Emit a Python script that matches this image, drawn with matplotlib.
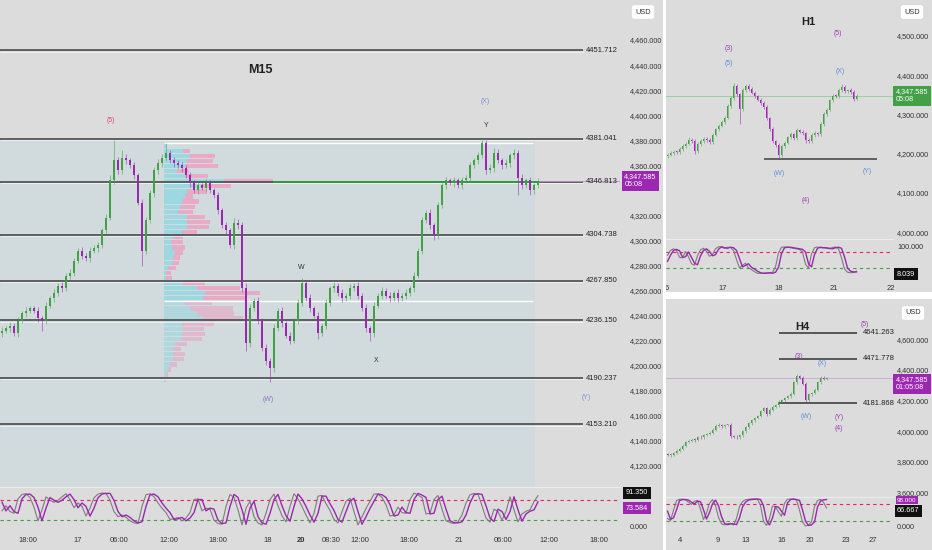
import matplotlib.pyplot as plt
import matplotlib.transforms as mtransforms
from matplotlib.patches import Rectangle
from matplotlib.ticker import FuncFormatter
import numpy as np

plt.rcParams["font.family"] = ["Liberation Sans Narrow", "Liberation Sans", "DejaVu Sans"]

# ---------------- M15 (main panel) ----------------
m15_first_open = 4226
m15_close = [4228, 4230, 4232, 4226, 4236, 4242, 4244, 4246, 4244, 4238,
             4236, 4248, 4254, 4258, 4264, 4262, 4272, 4274, 4284, 4292,
             4288, 4286, 4292, 4294, 4296, 4308, 4318, 4348, 4364, 4356,
             4366, 4364, 4360, 4352, 4330, 4292, 4316, 4338, 4356, 4362,
             4366, 4370, 4364, 4362, 4360, 4358, 4352, 4346, 4340, 4344,
             4342, 4346, 4340, 4336, 4324, 4312, 4308, 4296, 4314, 4312,
             4262, 4218, 4246, 4252, 4236, 4214, 4204, 4198, 4230, 4244,
             4234, 4224, 4220, 4236, 4250, 4266, 4254, 4246, 4240, 4226,
             4232, 4250, 4262, 4264, 4258, 4254, 4256, 4262, 4264, 4256,
             4246, 4230, 4226, 4248, 4256, 4260, 4256, 4254, 4258, 4254,
             4256, 4258, 4262, 4272, 4292, 4316, 4322, 4312, 4304, 4328,
             4344, 4348, 4346, 4348, 4344, 4348, 4350, 4360, 4364, 4368,
             4378, 4356, 4358, 4370, 4364, 4360, 4362, 4368, 4370, 4350,
             4344, 4348, 4340, 4344, 4347.585]
m15_wick_up = [3, 2, 3, 2, 3, 2, 3, 2, 2, 3, 2, 3, 2, 3, 2, 3, 2, 3, 2, 2,
               3, 2, 3, 2, 3, 2, 3, 4, 16, 3, 6, 3, 2, 3, 2, 3, 3, 2, 3, 3,
               3, 8, 2, 3, 2, 3, 2, 3, 2, 3, 2, 3, 2, 2, 3, 2, 3, 2, 4, 3,
               3, 4, 3, 2, 3, 2, 3, 2, 3, 2, 3, 2, 3, 2, 3, 4, 2, 3, 2, 3,
               2, 3, 2, 3, 2, 3, 2, 3, 2, 3, 2, 3, 2, 3, 2, 3, 2, 3, 2, 3,
               2, 3, 2, 3, 2, 3, 2, 3, 2, 3, 2, 3, 2, 3, 2, 3, 2, 3, 2, 3,
               4, 2, 3, 4, 3, 2, 3, 2, 3, 2, 3, 2, 3, 2, 2]
m15_wick_dn = [3, 2, 3, 2, 3, 2, 3, 2, 2, 3, 8, 3, 2, 3, 2, 3, 2, 3, 2, 2,
               3, 2, 3, 2, 3, 2, 3, 2, 3, 3, 3, 3, 2, 3, 2, 12, 3, 2, 3, 3,
               3, 2, 2, 3, 2, 3, 2, 3, 2, 3, 2, 3, 2, 2, 3, 2, 3, 2, 3, 3,
               3, 6, 3, 2, 3, 2, 3, 11, 3, 2, 3, 2, 3, 2, 3, 2, 2, 3, 2, 5,
               2, 3, 2, 3, 2, 3, 2, 3, 2, 3, 2, 3, 6, 3, 2, 3, 2, 3, 2, 3,
               2, 3, 2, 3, 2, 3, 2, 3, 4, 3, 2, 3, 2, 3, 2, 3, 2, 3, 2, 3,
               2, 3, 2, 3, 2, 3, 2, 3, 3, 14, 3, 2, 4, 3, 2]
m15_levels = [4451.712, 4381.041, 4346.813, 4304.738, 4267.850, 4236.150, 4190.237, 4153.210]
m15_stoch_k = [47, 62, 45, 40, 82, 95, 97, 86, 58, 18,
               50, 88, 78, 72, 78, 88, 97, 80, 56, 70,
               60, 32, 55, 85, 96, 99, 98, 78, 45, 30,
               35, 28, 18, 12, 10, 60, 94, 97, 88, 70,
               55, 42, 22, 24, 28, 18, 26, 42, 80, 82,
               47, 55, 52, 20, 10, 8, 60, 95, 86, 50,
               6, 55, 75, 30, 12, 6, 40, 80, 96, 62,
               33, 15, 60, 97, 82, 60, 35, 12, 40, 90,
               92, 68, 48, 22, 12, 45, 75, 84, 45, 6,
               30, 54, 75, 96, 96, 86, 65, 32, 35, 58,
               42, 40, 80, 99, 93, 86, 38, 40, 80, 92,
               52, 18, 13, 10, 15, 35, 70, 94, 98, 95,
               62, 26, 14, 52, 45, 20, 45, 88, 50, 15,
               38, 46, 50, 74, 91.35]
m15_stoch_d = [72, 47, 62, 45, 40, 82, 95, 96, 86, 58,
               18, 55, 86, 78, 72, 78, 88, 96, 80, 56,
               70, 60, 32, 55, 85, 96, 98, 98, 78, 45,
               30, 35, 28, 18, 12, 15, 60, 94, 96, 88,
               70, 55, 42, 22, 24, 28, 18, 26, 42, 80,
               80, 47, 55, 52, 20, 10, 12, 60, 95, 86,
               50, 8, 55, 75, 30, 12, 8, 40, 80, 95,
               62, 33, 17, 60, 96, 82, 60, 35, 14, 40,
               90, 90, 68, 48, 22, 14, 45, 75, 84, 45,
               8, 30, 54, 75, 96, 94, 86, 65, 32, 35,
               58, 42, 40, 80, 98, 93, 86, 38, 40, 80,
               90, 52, 18, 13, 12, 15, 35, 70, 94, 97,
               95, 62, 26, 16, 52, 45, 22, 45, 88, 50,
               17, 38, 46, 50, 73.584]
m15_time_labels = ["18:00", "17", "06:00", "12:00", "18:00", "18", "20", "08:30",
                   "12:00", "18:00", "21", "06:00", "12:00", "18:00"]
m15_time_idx = [6.5, 19, 29.25, 41.75, 54, 66.5, 74.75, 82.25, 89.5, 101.75,
                114.25, 125.25, 136.75, 149.25]

# volume profile rows, from the top row (4375.7) downwards
vp_top = 4375.7
vp_step = 4.06
vp_up = [3, 19, 26, 23, 21, 13, 21, 60, 39, 23, 21, 18, 16, 14, 23, 23, 23, 18, 9, 7,
         8, 11, 9, 8, 4, 2, 2, 19, 33, 41, 39, 21, 26, 33, 39, 18, 19, 18, 17, 11,
         9, 9, 9, 6, 4, 2, 1]
vp_down = [0, 7, 25, 26, 33, 12, 23, 49, 28, 20, 8, 17, 15, 15, 18, 23, 22, 15, 10, 12,
           13, 8, 7, 7, 8, 5, 6, 22, 43, 55, 42, 27, 43, 37, 40, 32, 21, 23, 21, 12,
           8, 12, 11, 7, 3, 2, 1]
vp_vah = 4377.6
vp_val = 4251.6
vp_poc = 4346.8

# ---------------- H1 ----------------
h1_first_open = 4195
h1_close = [4198, 4202, 4205, 4204, 4212, 4220, 4226, 4236, 4232, 4206,
            4226, 4232, 4238, 4236, 4230, 4248, 4262, 4272, 4282, 4292,
            4322, 4342, 4372, 4352, 4314, 4362, 4372, 4366, 4356, 4346,
            4338, 4330, 4318, 4290, 4262, 4232, 4222, 4196, 4220, 4228,
            4242, 4250, 4240, 4260, 4256, 4252, 4234, 4232, 4248, 4252,
            4250, 4276, 4302, 4312, 4336, 4348, 4346, 4362, 4370, 4360,
            4362, 4358, 4340, 4347.585]
h1_wick_up = [5, 4, 5, 4, 5, 4, 5, 6, 4, 5, 4, 5, 4, 5, 4, 5, 4, 5, 4, 5,
              5, 5, 8, 5, 4, 5, 6, 5, 4, 5, 4, 5, 4, 5, 4, 5, 4, 5, 4, 5,
              4, 6, 4, 5, 4, 5, 4, 5, 4, 5, 4, 5, 4, 5, 4, 5, 4, 5, 8, 5,
              4, 5, 4, 4]
h1_wick_dn = [5, 4, 5, 4, 5, 4, 5, 4, 4, 6, 4, 5, 4, 5, 4, 5, 4, 5, 4, 5,
              4, 5, 4, 5, 37, 5, 4, 5, 4, 5, 4, 5, 4, 5, 4, 5, 4, 8, 4, 5,
              4, 5, 4, 5, 4, 5, 6, 5, 4, 5, 4, 5, 4, 5, 4, 5, 4, 5, 4, 5,
              4, 5, 6, 4]
h1_level = 4186
h1_stoch_k = [68, 86, 92, 86, 60, 58, 82, 62, 36, 30,
              66, 88, 94, 82, 64, 70, 92, 100, 98, 94,
              98, 97, 86, 52, 20, 30, 38, 20, 14, 6,
              0, 0, 0, 2, 0, 4, 24, 76, 98, 99,
              98, 96, 94, 92, 90, 80, 34, 20, 72, 96,
              99, 96, 96, 94, 92, 97, 99, 92, 58, 16,
              4, 2, 3, 8.039]
h1_stoch_d = [45, 68, 86, 90, 85, 60, 62, 80, 60, 38,
              32, 65, 86, 92, 82, 66, 70, 90, 100, 96,
              94, 98, 96, 86, 55, 24, 30, 36, 22, 16,
              8, 2, 0, 0, 2, 0, 4, 22, 74, 96,
              98, 98, 96, 94, 92, 90, 80, 36, 24, 70,
              94, 98, 96, 96, 94, 92, 96, 98, 94, 62,
              20, 8, 5, 5]
h1_time_labels = ["6", "17", "18", "21", "22"]
h1_time_idx = [-0.17, 18.5, 37.2, 55.5, 74.5]

# ---------------- H4 ----------------
h4_first_open = 3848
h4_close = [3842, 3846, 3858, 3870, 3885, 3905, 3930, 3938, 3944, 3940,
            3962, 3958, 3975, 3980, 3990, 4010, 4035, 4040, 4030, 4038,
            4040, 3968, 3962, 3958, 3972, 3998, 4025, 4050, 4070, 4085,
            4100, 4130, 4150, 4110, 4140, 4160, 4170, 4190, 4200, 4215,
            4228, 4245, 4320, 4360, 4350, 4310, 4200, 4240, 4250, 4270,
            4320, 4350, 4340, 4347.585]
h4_wick_up = [8, 10, 8, 10, 8, 10, 8, 10, 8, 10, 8, 10, 8, 10, 8, 10, 8, 10, 8, 10,
              8, 10, 8, 10, 8, 10, 8, 10, 8, 10, 8, 10, 8, 10, 8, 10, 8, 10, 8, 10,
              8, 10, 8, 14, 8, 10, 8, 10, 8, 10, 8, 10, 8, 8]
h4_wick_dn = [8, 10, 8, 10, 8, 10, 8, 10, 8, 10, 8, 10, 8, 10, 8, 10, 8, 10, 8, 10,
              8, 12, 8, 10, 8, 10, 8, 10, 8, 10, 8, 10, 8, 10, 8, 10, 8, 10, 8, 10,
              8, 10, 8, 10, 8, 10, 18, 10, 8, 10, 8, 10, 8, 8]
h4_levels = [4641.263, 4471.778, 4181.868]
h4_stoch_k = [28, 20, 58, 94, 99, 99, 97, 88, 80, 92,
              94, 62, 24, 48, 84, 98, 76, 32, 8, 4,
              8, 10, 4, 28, 72, 90, 97, 99, 100, 100,
              99, 76, 18, 2, 28, 74, 72, 52, 36, 84,
              99, 100, 99, 96, 58, 15, 0, 3, 16, 72,
              94, 99, 88, 66.667]
h4_stoch_d = [55, 25, 30, 60, 94, 98, 98, 96, 88, 82,
              92, 90, 60, 26, 50, 82, 96, 75, 35, 10,
              5, 8, 8, 5, 30, 70, 88, 96, 98, 99,
              100, 98, 75, 20, 4, 30, 72, 70, 55, 40,
              85, 98, 100, 98, 95, 60, 18, 2, 4, 15,
              70, 92, 97, 98]
h4_time_labels = ["4", "9", "13", "16", "20", "23", "27"]
h4_time_idx = [4.2, 16.8, 26.2, 38.2, 47.5, 59.5, 68.5]

# ---------------- style ----------------
BG = "#dcdcdc"
SHADE = "#d1dadc"
GREEN = "#43a047"
PURPLE = "#9c27b0"
WAVE_BLUE = "#5b8fd6"
WAVE_PURPLE = "#9c3fb0"
TXT = "#333333"

W, H = 932, 550
fig = plt.figure(figsize=(W / 100, H / 100), dpi=100, facecolor=BG)


def px_axes(x0, y0, x1, y1):
    ax = fig.add_axes([x0 / W, 1 - y1 / H, (x1 - x0) / W, (y1 - y0) / H])
    ax.set_facecolor(BG)
    for s in ax.spines.values():
        s.set_visible(False)
    ax.set_xticks([])
    ax.set_yticks([])
    return ax


def ptext(px, py, s, **kw):
    return fig.text(px / W, 1 - py / H, s, **kw)


def candles(ax, xs, closes, first_open, wick_up, wick_dn, width, minh):
    closes = np.asarray(closes, float)
    opens = np.concatenate([[first_open], closes[:-1]])
    cols = np.where(closes >= opens, GREEN, PURPLE)
    top = np.maximum(opens, closes)
    bot = np.minimum(opens, closes)
    ax.vlines(xs, bot - np.asarray(wick_dn), top + np.asarray(wick_up),
              colors=cols, lw=0.7, alpha=0.55, zorder=4)
    ax.bar(xs, np.maximum(top - bot, minh), bottom=bot, width=width,
           color=cols, linewidth=0, zorder=5)


def price_axis(ax, ticks, pad):
    ax.yaxis.tick_right()
    ax.set_yticks(ticks)
    ax.yaxis.set_major_formatter(FuncFormatter(lambda v, p: f"{v:,.3f}"))
    ax.tick_params(axis="y", length=0, pad=pad, labelsize=5.2, labelcolor=TXT)


def osc(ax, xs, k, d, xlim):
    ax.plot(xs, k, color="#7d7d7d", lw=0.8, zorder=3)
    ax.plot(xs, d, color=PURPLE, lw=1.0, zorder=4)
    ax.axhline(80, color="#e91e63", lw=0.8, ls=(0, (3, 3)))
    ax.axhline(20, color="#43a047", lw=0.8, ls=(0, (3, 3)))
    ax.set_xlim(*xlim)
    ax.spines["top"].set_visible(True)
    ax.spines["top"].set_color("#ececec")
    ax.spines["top"].set_linewidth(0.8)


def box(ax, x, y, s, fc, fs=5.2, dy_px=0.0):
    # price tag on the right axis; dy_px nudges it down by that many pixels
    tr = mtransforms.blended_transform_factory(ax.transAxes, ax.transData)
    tr = tr + mtransforms.ScaledTranslation(0, -dy_px / 100, fig.dpi_scale_trans)
    ax.text(x, y, s, transform=tr, ha="left", va="center", fontsize=fs, color="white",
            linespacing=1.15, clip_on=False, zorder=30,
            bbox=dict(boxstyle="square,pad=0.35", fc=fc, ec="none"))


def usd(px, py):
    ptext(px, py, "USD", fontsize=5.3, color=TXT, ha="center", va="center",
          bbox=dict(boxstyle="round,pad=0.45,rounding_size=0.3", fc="white", ec="none"))


# ================= main M15 panel =================
last = m15_close[-1]
m_x = 2 + 4 * np.arange(len(m15_close))
ax = px_axes(0, 0, 620, 487)
ax.set_xlim(0, 620)
ax.set_ylim(4460 - (487 - 40) / 1.253, 4460 + 40 / 1.253)
ybot = ax.get_ylim()[0]
ax.add_patch(Rectangle((0, ybot), 535, m15_levels[1] - ybot, fc=SHADE, ec="none", zorder=0))

# volume profile
rows = vp_top - vp_step * np.arange(len(vp_up))
inside = (rows <= vp_vah) & (rows >= vp_val)
vp_up_a = np.asarray(vp_up, float)
vp_dn_a = np.asarray(vp_down, float)
for sel, a in ((inside, 0.9), (~inside, 0.6)):
    ax.barh(rows[sel], vp_up_a[sel], left=164, height=3.4, color="#98d8e1",
            alpha=a, linewidth=0, zorder=1)
    ax.barh(rows[sel], vp_dn_a[sel], left=164 + vp_up_a[sel], height=3.4,
            color="#eaa6c3", alpha=a, linewidth=0, zorder=1)
ax.hlines([vp_vah, vp_val], 164, 533, color="white", lw=1.0, zorder=2)

ax.hlines(np.asarray(m15_levels) - 1.0, 0, 583, color="white", lw=0.6, alpha=0.7, zorder=2.4)
ax.hlines(m15_levels, 0, 583, color="#4a4a4a", lw=1.2, zorder=2.5)
ax.hlines(vp_poc, 273, 540, color="#2e9e3e", lw=1.3, zorder=2.6)
for lv in m15_levels:
    ax.text(586, lv, f"{lv:.3f}", fontsize=5.5, ha="left", va="center", color="#222222", zorder=6)

candles(ax, m_x, m15_close, m15_first_open, m15_wick_up, m15_wick_dn, 2.4, 1.0)
ax.hlines(last, m_x[-1], 620, color="#c48ccb", lw=0.6, zorder=3)

ax.text(260, 4436, "M15", fontsize=9, fontweight="bold", ha="center", va="center", color="#222222")
for s, x, y, c in [("(5)", 111, 4396, "#e0407a"), ("(X)", 485, 4411.3, "#7e8fd6"),
                   ("Y", 486, 4391.4, TXT), ("W", 301, 4278.8, TXT), ("X", 376, 4204.6, TXT),
                   ("(W)", 268, 4172.7, "#8e6fd0"), ("(Y)", 586, 4174.3, "#7e8fd6")]:
    ax.text(x, y, s, fontsize=5, ha="center", va="center", color=c, zorder=6)

ticks = [t for t in range(4120, 4461, 20) if abs(t - last) > 10]
price_axis(ax, ticks, 7)
box(ax, 1.007, last, f"{last:,.3f}\n05:08", PURPLE)
usd(643, 12)

oa = px_axes(0, 487, 620, 533)
oa.set_ylim(-17.5, 116.6)
osc(oa, m_x, m15_stoch_k, m15_stoch_d, (0, 620))
oa.set_xticks(2 + 4 * np.asarray(m15_time_idx))
oa.set_xticklabels(m15_time_labels)
oa.tick_params(axis="x", length=0, pad=3, labelsize=5.5, labelcolor=TXT)
for lab in oa.get_xticklabels():
    if lab.get_text() == "20":
        lab.set_fontweight("bold")
price_axis(oa, [0], 7)
ptext(626, 493, f"{m15_stoch_k[-1]:.3f}", fontsize=5.2, color="white", va="center",
      bbox=dict(boxstyle="square,pad=0.35", fc="#111111", ec="none"), zorder=30)
ptext(626, 508, f"{m15_stoch_d[-1]:.3f}", fontsize=5.2, color="white", va="center",
      bbox=dict(boxstyle="square,pad=0.35", fc=PURPLE, ec="none"), zorder=30)

# ================= H1 panel =================
h_x1 = 1.5 + 3 * np.arange(len(h1_close))
a1 = px_axes(666, 0, 893, 239)
a1.set_xlim(0, 227)
a1.set_ylim(3982.9, 4591.7)
a1.axhline(h1_close[-1], color="#8fcf95", lw=0.6, zorder=2)
a1.hlines(h1_level, 98, 211, color="#555555", lw=1.3, zorder=3)
candles(a1, h_x1, h1_close, h1_first_open, h1_wick_up, h1_wick_dn, 1.9, 2.5)
a1.text(142, 4535.7, "H1", fontsize=8, fontweight="bold", ha="center", va="center", color="#222222")
for s, x, y, c in [("(3)", 63, 4466.9, WAVE_PURPLE), ("(5)", 63, 4428.7, WAVE_BLUE),
                   ("(5)", 172, 4507.6, WAVE_PURPLE), ("(X)", 174, 4408.3, WAVE_BLUE),
                   ("(W)", 113, 4151, WAVE_BLUE), ("(Y)", 201, 4153.6, WAVE_BLUE),
                   ("(4)", 140, 4079.7, WAVE_PURPLE)]:
    a1.text(x, y, s, fontsize=5, ha="center", va="center", color=c, zorder=6)
price_axis(a1, list(range(4000, 4501, 100)), 3)
box(a1, 1.012, h1_close[-1], f"{h1_close[-1]:,.3f}\n05:08", "#43a047")
usd(912, 12)

o1 = px_axes(666, 239, 893, 283)
o1.set_ylim(-36.5, 128.9)
osc(o1, h_x1, h1_stoch_k, h1_stoch_d, (0, 227))
o1.set_xticks(1.5 + 3 * np.asarray(h1_time_idx))
o1.set_xticklabels(h1_time_labels)
o1.tick_params(axis="x", length=0, pad=1.5, labelsize=5.5, labelcolor=TXT)
price_axis(o1, [100], 3)
ptext(897, 274, f"{h1_stoch_k[-1]:.3f}", fontsize=5.2, color="white", va="center",
      bbox=dict(boxstyle="square,pad=0.35", fc="#111111", ec="none"), zorder=30)

# ================= H4 panel =================
h_x4 = 1.5 + 3 * np.arange(len(h4_close))
a4 = px_axes(666, 300, 893, 497)
a4.set_xlim(0, 227)
a4.set_ylim(3569, 4856.9)
a4.axhline(h4_close[-1], color="#d2a0d8", lw=0.6, zorder=2)
a4.hlines(h4_levels, 113, 191, color="#333333", lw=1.1, zorder=3)
for lv in h4_levels:
    a4.text(197, lv, f"{lv:.3f}", fontsize=5.5, ha="left", va="center", color="#222222")
candles(a4, h_x4, h4_close, h4_first_open, h4_wick_up, h4_wick_dn, 1.9, 6)
a4.text(136, 4680.4, "H4", fontsize=8, fontweight="bold", ha="center", va="center", color="#222222")
for s, x, y, c in [("(5)", 199, 4693.5, WAVE_PURPLE), ("(3)", 133, 4484.4, WAVE_PURPLE),
                   ("(X)", 156, 4438.6, WAVE_BLUE), ("(W)", 140, 4092.2, WAVE_BLUE),
                   ("(Y)", 173, 4085.6, WAVE_PURPLE), ("(4)", 173, 4014, WAVE_PURPLE)]:
    a4.text(x, y, s, fontsize=5, ha="center", va="center", color=c, zorder=6)
price_axis(a4, list(range(3600, 4601, 200)), 3)
box(a4, 1.012, h4_close[-1], f"{h4_close[-1]:,.3f}\n01:05:08", PURPLE, dy_px=6)
usd(913, 313)

o4 = px_axes(666, 497, 893, 533)
o4.set_ylim(-25.9, 107.4)
osc(o4, h_x4, h4_stoch_k, h4_stoch_d, (0, 227))
o4.set_xticks(1.5 + 3 * np.asarray(h4_time_idx))
o4.set_xticklabels(h4_time_labels)
o4.tick_params(axis="x", length=0, pad=3, labelsize=5.5, labelcolor=TXT)
price_axis(o4, [0], 3)
ptext(897, 500, f"{h4_stoch_d[-1]:.3f}", fontsize=4.6, color="white", va="center",
      bbox=dict(boxstyle="square,pad=0.2", fc=PURPLE, ec="none"), zorder=29)
ptext(897, 511, f"{h4_stoch_k[-1]:.3f}", fontsize=5.2, color="white", va="center",
      bbox=dict(boxstyle="square,pad=0.3", fc="#111111", ec="none"), zorder=30)

# white panel separators
fig.add_artist(Rectangle((663 / W, 0), 3 / W, 1, transform=fig.transFigure,
                         fc="white", ec="none", zorder=40))
fig.add_artist(Rectangle((666 / W, 1 - 299 / H), (W - 666) / W, 7 / H,
                         transform=fig.transFigure, fc="white", ec="none", zorder=40))

fig.savefig("out.png", dpi=100, facecolor=BG)
plt.close(fig)
